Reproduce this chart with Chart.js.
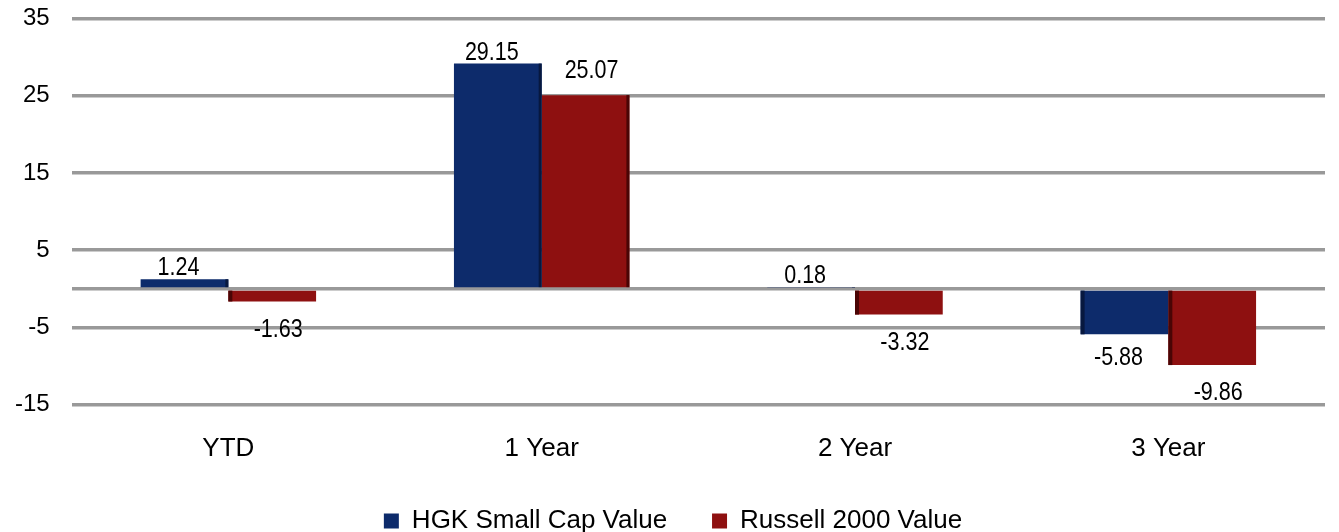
<!DOCTYPE html>
<html>
<head>
<meta charset="utf-8">
<script src="https://cdn.jsdelivr.net/npm/chart.js@4"></script>
<style>
  html, body { margin: 0; padding: 0; background: #fff; overflow: hidden; }
  .ChartContainer { width: 1339px; height: 550px; position: absolute; left: 0; top: -18px; }
</style>
</head>
<body>
<div class="ChartContainer">
  <canvas id="returns-chart"></canvas>
</div>
<script>
var categories = ['YTD', '1 Year', '2 Year', '3 Year'];
var hgkValues = [1.24, 29.15, 0.18, -5.88];
var russellValues = [-1.63, 25.07, -3.32, -9.86];
var yTicks = [-15, -5, 0, 5, 15, 25, 35];

var labelFont = "25px 'Liberation Sans', Arial, sans-serif";

// shaded edge + value labels on each bar
var barExtras = {
    id: 'barExtras',
    afterLayout: function(chart) {
        // nudge the legend a little to the right
        chart.legend.left += 14;
        chart.legend.right += 14;
    },
    afterDatasetsDraw: function(chart) {
        var ctx = chart.ctx;
        ctx.save();
        chart.data.datasets.forEach(function(dataset, i) {
            var meta = chart.getDatasetMeta(i);
            meta.data.forEach(function(bar, j) {
                var v = dataset.data[j];
                var left = bar.x - bar.width / 2;
                var right = bar.x + bar.width / 2;
                var top = Math.min(bar.y, bar.base);
                var bottom = Math.max(bar.y, bar.base);
                ctx.fillStyle = dataset.edgeColor;
                if (v >= 0) {
                    ctx.fillRect(right - 3, top, 3, bottom - top);
                } else {
                    ctx.fillRect(left, top, 4, bottom - top);
                }

                // condensed-looking text: squeeze horizontally
                var lx = bar.x + dataset.labelShift;
                var ly;
                ctx.save();
                ctx.fillStyle = '#000';
                ctx.font = labelFont;
                ctx.textAlign = 'center';
                if (v >= 0) {
                    ctx.textBaseline = 'alphabetic';
                    ly = bar.y - dataset.gapUp;
                } else {
                    ctx.textBaseline = 'top';
                    ly = bar.y + dataset.gapDown;
                }
                ctx.translate(lx, ly);
                ctx.scale(0.86, 1);
                ctx.fillText(v.toFixed(2), 0, 0);
                ctx.restore();
            });
        });
        ctx.restore();
    }
};

var ctx = document.getElementById('returns-chart');

var chart = new Chart(ctx, {
    type: 'bar',
    data: {
        labels: categories,
        datasets: [{
            label: 'HGK Small Cap Value',
            data: hgkValues,
            backgroundColor: '#0d2b6b',
            edgeColor: '#07183f',
            labelShift: -6,
            gapUp: 4,
            gapDown: 11,
            categoryPercentage: 0.56,
            barPercentage: 1.0
        }, {
            label: 'Russell 2000 Value',
            data: russellValues,
            backgroundColor: '#8e1010',
            edgeColor: '#4a0505',
            labelShift: 6,
            gapUp: 17,
            gapDown: 16,
            categoryPercentage: 0.56,
            barPercentage: 1.0
        }]
    },
    options: {
        responsive: true,
        maintainAspectRatio: false,
        animation: false,
        layout: { padding: { left: -7, right: 14, top: 0, bottom: -12 } },
        scales: {
            x: {
                grid: { display: false, drawTicks: false },
                border: { display: false },
                ticks: {
                    color: '#000',
                    font: { family: "'Liberation Sans', Arial, sans-serif", size: 26 },
                    padding: 28
                }
            },
            y: {
                min: -15,
                max: 35,
                afterBuildTicks: function(axis) {
                    axis.ticks = yTicks.map(function(v) { return { value: v }; });
                },
                grid: { color: '#999999', lineWidth: 3.5, drawTicks: false },
                border: { display: false },
                ticks: {
                    color: '#000',
                    font: { family: "'Liberation Sans', Arial, sans-serif", size: 24 },
                    padding: 22,
                    callback: function(v) { return v === 0 ? '' : v; }
                }
            }
        },
        plugins: {
            legend: {
                position: 'bottom',
                labels: {
                    color: '#000',
                    font: { family: "'Liberation Sans', Arial, sans-serif", size: 26 },
                    boxWidth: 15,
                    boxHeight: 15,
                    padding: 16,
                    // wider gap between the two entries
                    generateLabels: function(chart) {
                        var items = Chart.defaults.plugins.legend.labels.generateLabels(chart);
                        items.forEach(function(item, k) {
                            if (k < items.length - 1) item.text = item.text + '    ';
                        });
                        return items;
                    }
                }
            },
            tooltip: { enabled: false }
        }
    },
    plugins: [barExtras]
});
</script>
</body>
</html>
